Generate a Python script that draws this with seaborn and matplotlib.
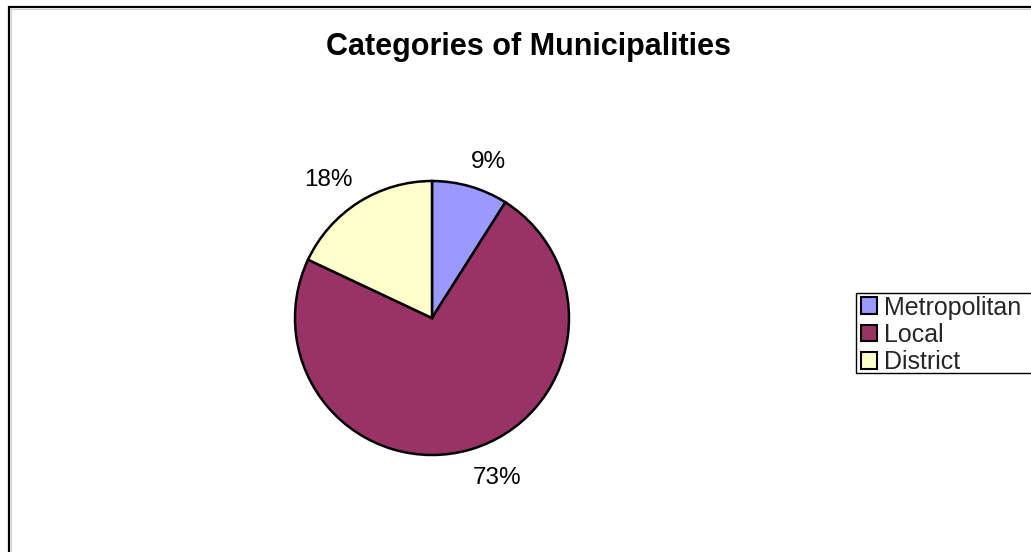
import matplotlib
matplotlib.use("Agg")
import matplotlib.pyplot as plt
from matplotlib.patches import Rectangle, Patch
from matplotlib.transforms import offset_copy
import seaborn as sns

# Municipality categories and their share of the total (%)
categories = ["Metropolitan", "Local", "District"]
shares = [9, 73, 18]
colors = ["#9999FF", "#993366", "#FFFFCC"]

sns.set_theme(style="white")
plt.rcParams["font.family"] = ["Liberation Sans", "DejaVu Sans"]

W, H = 1031, 552
fig = plt.figure(figsize=(W / 100, H / 100), dpi=100)
fig.patch.set_facecolor("white")

# Chart-area border running off the right and bottom edges
fig.add_artist(Rectangle((8.5 / W, -0.2), 1.2, 1 - 6.5 / H + 0.2,
                         transform=fig.transFigure, fill=False,
                         edgecolor="black", linewidth=1.6))
fig.add_artist(Rectangle((10.5 / W, -0.2), 1.2, 1 - 8.5 / H + 0.2,
                         transform=fig.transFigure, fill=False,
                         edgecolor="#d0d0d0", linewidth=0.8))

fig.text(528 / W, 1 - 47 / H, "Categories of Municipalities",
         ha="center", va="center", fontsize=22, fontweight="bold",
         color="black")

# Pie: centre (432, 318) px, radius 137 px
cx, cy, r = 432, 318, 137
half = 150
ax = fig.add_axes([(cx - half) / W, (H - cy - half) / H, 2 * half / W, 2 * half / H])
ax.axis("off")

wedges, texts = ax.pie(
    shares,
    colors=colors,
    startangle=90,
    counterclock=False,
    radius=1,
    labels=[f"{v}%" for v in shares],
    labeldistance=1.24,
    wedgeprops=dict(edgecolor="black", linewidth=1.8),
    textprops=dict(fontsize=17.5, color="black"),
)
ax.set_xlim(-half / r, half / r)
ax.set_ylim(-half / r, half / r)
ax.set_aspect("equal")

# Nudge the outside-end labels (offsets in points)
nudges = [(6.5, -5), (13, 2.2), (-9.4, -3.6)]
for t, (dx, dy) in zip(texts, nudges):
    t.set_ha("center")
    t.set_va("center")
    t.set_transform(offset_copy(ax.transData, fig=fig, x=dx, y=dy, units="points"))

# Legend
handles = [Patch(facecolor=c, edgecolor="black", linewidth=1.5) for c in colors]
leg = fig.legend(handles, categories, loc="upper left",
                 bbox_to_anchor=(858 / W, 1 - 293 / H),
                 frameon=False, fontsize=18, handlelength=0.66,
                 handleheight=0.66, handletextpad=0.3, labelspacing=0.13,
                 borderpad=0.1, borderaxespad=0)
fig.add_artist(Rectangle((855.5 / W, 1 - 372.5 / H), 0.5, 80 / H,
                         transform=fig.transFigure, fill=False,
                         edgecolor="black", linewidth=1.0))

fig.savefig("out.png", dpi=100, facecolor="white")
